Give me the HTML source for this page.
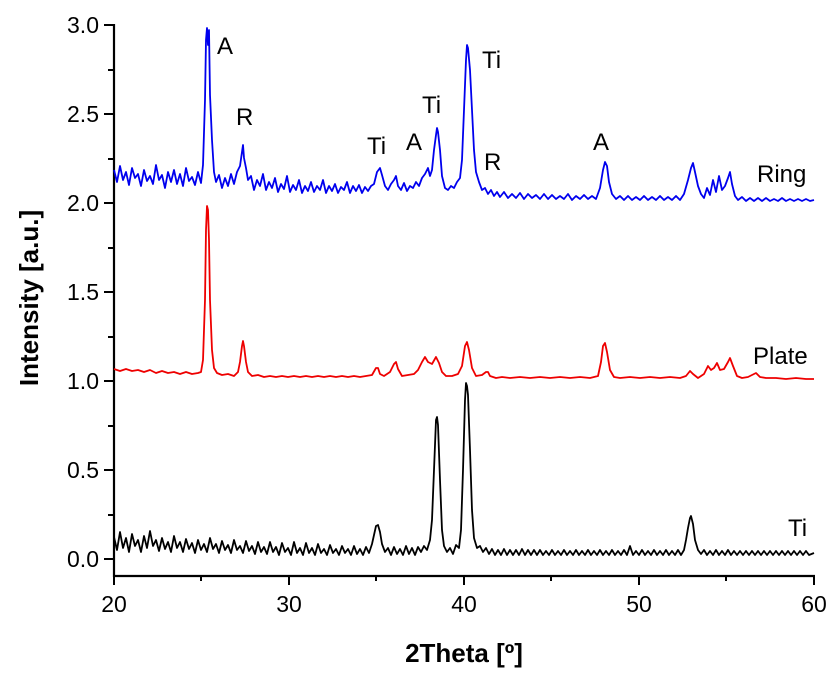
<!DOCTYPE html>
<html><head><style>body{margin:0;background:#fff}svg{display:block}text{font-family:"Liberation Sans",Arial,sans-serif}</style></head>
<body>
<svg width="838" height="680" xmlns="http://www.w3.org/2000/svg">
<g stroke="#000" stroke-width="2.2" fill="none">
<line x1="114" y1="24" x2="114" y2="577"/>
<line x1="113" y1="576" x2="815" y2="576"/>
</g>
<g stroke="#000" stroke-width="2">
<line x1="104" y1="25" x2="114" y2="25"/><line x1="108" y1="70" x2="114" y2="70"/>
<line x1="104" y1="114" x2="114" y2="114"/><line x1="108" y1="159" x2="114" y2="159"/>
<line x1="104" y1="203" x2="114" y2="203"/><line x1="108" y1="248" x2="114" y2="248"/>
<line x1="104" y1="292" x2="114" y2="292"/><line x1="108" y1="337" x2="114" y2="337"/>
<line x1="104" y1="381" x2="114" y2="381"/><line x1="108" y1="426" x2="114" y2="426"/>
<line x1="104" y1="470" x2="114" y2="470"/><line x1="108" y1="515" x2="114" y2="515"/>
<line x1="104" y1="559" x2="114" y2="559"/>
<line x1="114" y1="576" x2="114" y2="585"/><line x1="201" y1="576" x2="201" y2="581"/>
<line x1="289" y1="576" x2="289" y2="585"/><line x1="376" y1="576" x2="376" y2="581"/>
<line x1="464" y1="576" x2="464" y2="585"/><line x1="551" y1="576" x2="551" y2="581"/>
<line x1="639" y1="576" x2="639" y2="585"/><line x1="726" y1="576" x2="726" y2="581"/>
<line x1="814" y1="576" x2="814" y2="585"/>
</g>
<g font-size="23" text-anchor="end">
<text x="99" y="33">3.0</text><text x="99" y="122">2.5</text><text x="99" y="211">2.0</text>
<text x="99" y="300">1.5</text><text x="99" y="389">1.0</text><text x="99" y="478">0.5</text><text x="99" y="567">0.0</text>
</g>
<g font-size="23" text-anchor="middle">
<text x="114" y="612">20</text><text x="289" y="612">30</text><text x="464" y="612">40</text><text x="639" y="612">50</text><text x="814" y="612">60</text>
</g>
<text x="464" y="662" font-size="26" font-weight="bold" text-anchor="middle">2Theta [º]</text>
<text transform="translate(38,298) rotate(-90)" font-size="26" font-weight="bold" text-anchor="middle">Intensity [a.u.]</text>
<g fill="none" stroke-width="1.8" stroke-linejoin="round">
<polyline stroke="#00e" points="114,170 117,182 120,166 123,180 126,172 129,185 132,168 135,178 138,174 141,186 144,170 147,181 150,176 153,184 156,165 159,180 162,175 165,188 168,172 171,182 174,170 177,184 180,174 183,186 186,168 189,181 192,177 195,185 198,172 201,183 203,165 205,100 206,40 207,28 208,45 209,30 210,95 212,140 214,172 216,182 219,175 222,188 225,178 228,186 231,174 234,184 237,172 240,166 242,152 243,145 244,158 246,168 248,180 251,176 254,190 257,180 260,186 263,174 266,190 269,182 272,188 275,178 278,192 281,184 284,189 287,176 290,192 293,185 296,190 299,180 302,193 305,186 308,191 311,182 314,192 317,186 320,190 323,180 326,193 329,186 332,191 335,184 338,193 341,187 344,190 347,182 350,193 353,186 356,191 359,185 362,193 365,187 368,191 371,186 374,184 377,172 380,168 382,175 385,186 388,190 391,184 394,180 396,176 398,186 401,190 404,183 407,191 410,186 413,188 416,182 419,186 422,178 425,174 428,168 430,176 432,170 434,150 436,135 437,128 438,132 440,150 442,176 445,188 448,190 451,186 454,188 457,182 460,178 462,160 464,110 466,60 467,45 468,48 470,70 472,110 474,150 476,172 479,182 482,190 485,188 488,194 491,190 494,196 497,192 500,197 504,192 508,198 512,194 516,198 520,193 524,199 528,194 532,198 536,195 540,199 544,194 548,199 552,195 556,199 560,196 564,199 568,194 572,200 576,196 580,199 584,195 588,199 592,196 596,199 600,188 603,170 605,162 607,166 609,182 612,194 616,199 620,196 624,200 628,196 632,200 636,197 640,200 644,196 648,200 652,197 656,200 660,196 664,200 668,197 672,200 676,196 680,200 684,194 688,180 691,168 693,163 695,172 698,186 701,194 704,198 707,188 710,195 713,180 716,192 719,176 722,190 725,186 728,178 730,172 732,184 735,196 738,200 742,197 746,201 750,198 754,201 758,198 762,201 766,198 770,201 774,199 778,201 782,198 786,201 790,199 794,201 798,199 802,201 806,199 810,201 814,200"/>
<polyline stroke="#e00" points="114,369 120,371 126,369 132,371 138,370 144,372 150,370 156,373 162,371 168,373 174,372 180,374 186,372 192,374 198,373 201,372 203,360 205,300 206,230 207,206 208,210 209,240 210,300 212,350 214,368 217,373 222,375 228,374 234,376 238,372 240,362 242,346 243,341 244,346 246,362 248,372 252,376 258,375 264,377 270,376 276,377 282,376 288,377 294,376 300,377 306,376 312,377 318,376 324,377 330,376 336,377 342,376 348,377 354,376 360,377 366,376 372,375 376,368 378,368 380,374 384,376 390,372 394,364 396,362 398,369 402,376 408,375 414,374 418,370 422,362 425,357 428,362 432,364 436,357 439,363 442,372 446,376 452,376 458,374 462,366 465,346 467,342 469,350 472,368 476,376 482,375 486,372 488,372 490,376 496,378 502,377 510,378 520,377 530,378 540,377 550,378 560,377 570,378 580,377 590,378 598,376 601,362 603,346 605,343 607,352 610,370 614,377 620,378 630,377 640,378 650,377 660,378 670,377 680,378 686,376 690,371 693,374 698,378 704,374 708,366 711,370 714,368 717,363 720,370 724,369 728,362 730,358 733,366 737,376 742,378 748,377 754,374 756,373 760,377 766,378 776,378 786,379 796,378 806,379 814,379"/>
<polyline stroke="#000" points="114,537 117,550 120,532 123,548 126,538 129,552 132,534 135,546 138,540 141,552 144,536 147,548 150,531 153,546 156,540 159,551 162,538 165,549 168,542 171,552 174,536 177,548 180,542 183,552 186,539 189,549 192,543 195,553 198,540 201,550 204,544 207,552 210,538 213,549 216,544 219,553 222,541 225,550 228,545 231,553 234,540 237,550 240,546 243,553 246,541 249,551 252,546 255,554 258,542 261,552 264,547 267,554 270,542 273,552 276,547 279,555 282,543 285,552 288,548 291,555 294,542 297,553 300,548 303,555 306,543 309,553 312,548 315,555 318,544 321,553 324,549 327,555 330,545 333,553 336,549 339,555 342,546 345,553 348,549 351,555 354,546 357,554 360,549 363,555 366,547 369,553 372,544 374,535 376,526 378,525 380,532 382,544 385,552 388,548 391,555 394,547 397,554 400,549 403,555 406,546 409,554 412,548 415,555 418,547 421,552 424,546 427,550 430,540 432,520 434,470 436,420 437,417 438,425 440,480 442,530 444,546 447,552 450,548 453,554 456,545 459,548 461,530 463,470 465,400 466,383 467,386 468,395 470,450 472,510 474,538 477,548 480,546 483,552 486,548 489,554 492,549 495,555 498,550 501,555 504,549 507,555 510,550 513,555 516,550 519,555 522,549 525,555 528,550 531,555 534,550 537,555 540,550 543,555 546,551 549,555 552,550 555,555 558,551 561,555 564,550 567,555 570,551 573,555 576,550 579,555 582,551 585,555 588,550 591,555 594,551 597,555 600,550 603,555 606,551 609,555 612,550 615,555 618,551 621,555 624,550 627,555 630,546 633,555 636,551 639,555 642,550 645,555 648,551 651,555 654,550 657,555 660,551 663,555 666,550 669,555 672,551 675,555 678,550 681,555 684,550 686,540 688,528 690,518 691,516 693,524 695,540 698,550 701,554 704,550 707,555 710,551 713,555 716,550 719,555 722,551 725,555 728,550 731,555 734,551 737,555 740,551 743,555 746,551 749,555 752,551 755,555 758,551 761,555 764,551 767,555 770,551 773,555 776,551 779,555 782,551 785,555 788,551 791,555 794,551 797,555 800,551 803,555 806,551 809,555 814,553"/>
</g>
<g font-size="24">
<text x="217" y="54">A</text><text x="236" y="125">R</text><text x="367" y="154">Ti</text><text x="406" y="150">A</text>
<text x="422" y="113">Ti</text><text x="482" y="68">Ti</text><text x="484" y="170">R</text><text x="593" y="150">A</text>
<text x="757" y="182">Ring</text><text x="753" y="364">Plate</text><text x="788" y="536">Ti</text>
</g>
</svg>
</body></html>
